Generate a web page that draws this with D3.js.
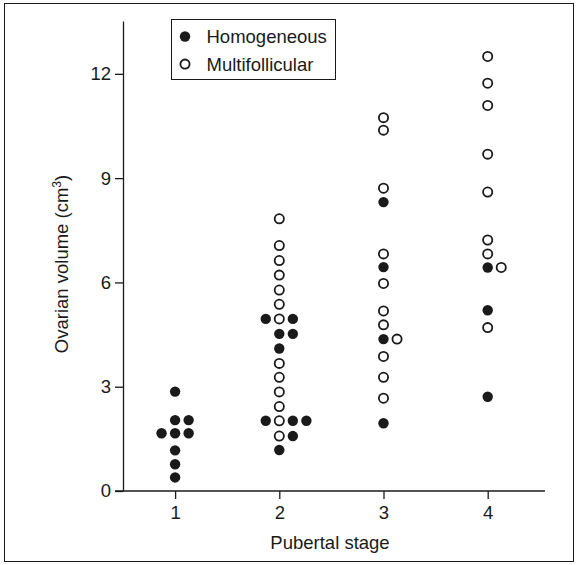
<!DOCTYPE html>
<html>
<head>
<meta charset="utf-8">
<script src="https://cdn.jsdelivr.net/npm/d3@7"></script>
<style>
  body { margin: 0; background: #fff; }
  svg text { font-family: "Liberation Sans", Arial, sans-serif; }
</style>
</head>
<body>
<svg width="577" height="565"></svg>
<script>
// pubertal stage, ovarian volume (cm3), side slot in the dot column, echo type
const stages = [
  1, 1, 1, 1, 1, 1, 1, 1, 1,
  2, 2, 2, 2, 2, 2, 2, 2, 2, 2, 2, 2, 2, 2, 2, 2,
  2, 2, 2, 2, 2, 2, 2,
  3, 3, 3, 3, 3, 3, 3, 3, 3, 3, 3, 3, 3, 3, 3,
  4, 4, 4, 4, 4, 4, 4, 4, 4, 4, 4, 4
];
const volumes = [
  2.86, 2.04, 2.04, 1.66, 1.66, 1.66, 1.17, 0.77, 0.39,
  7.83, 7.06, 6.63, 6.21, 5.78, 5.37, 4.95, 4.95, 4.95, 4.52, 4.52, 4.10, 3.67, 3.27, 2.85, 2.43,
  2.02, 2.02, 2.02, 2.02, 1.58, 1.58, 1.18,
  10.74, 10.38, 8.71, 8.31, 6.82, 6.44, 5.97, 5.18, 4.78, 4.37, 4.37, 3.87, 3.27, 2.67, 1.95,
  12.50, 11.73, 11.09, 9.69, 8.60, 7.22, 6.82, 6.43, 6.43, 5.20, 4.70, 2.71
];
const slots = [
  0, 0, 1, -1, 0, 1, 0, 0, 0,
  0, 0, 0, 0, 0, 0, -1, 0, 1, 0, 1, 0, 0, 0, 0, 0,
  -1, 0, 1, 2, 0, 1, 0,
  0, 0, 0, 0, 0, 0, 0, 0, 0, 0, 1, 0, 0, 0, 0,
  0, 0, 0, 0, 0, 0, 0, 0, 1, 0, 0, 0
];
const types = [
  "H", "H", "H", "H", "H", "H", "H", "H", "H",
  "M", "M", "M", "M", "M", "M", "H", "M", "H", "H", "H", "H", "M", "M", "M", "M",
  "H", "M", "H", "H", "M", "H", "H",
  "M", "M", "M", "H", "M", "H", "M", "M", "M", "H", "M", "M", "M", "M", "H",
  "M", "M", "M", "M", "M", "M", "M", "H", "M", "H", "M", "H"
];
const typeLabels = ["Homogeneous", "Multifollicular"];
const xTicks = [1, 2, 3, 4];
const yTicks = [0, 3, 6, 9, 12];

const data = stages.map((s, i) => ({
  stage: s, volume: volumes[i], slot: slots[i], type: types[i]
}));

const svg = d3.select("svg");
const ink = "#1a1a1a";
const fontSize = 18.5;
const slotWidth = 0.13;

const x = d3.scaleLinear().domain([0.5, 4.55]).range([123, 545]);
const y = d3.scaleLinear().domain([0, 13.52]).range([491, 21]);

// frame
svg.append("rect")
  .attr("x", 4.5).attr("y", 3.5)
  .attr("width", 569).attr("height", 558)
  .attr("fill", "none")
  .attr("stroke", ink)
  .attr("stroke-width", 1);

// y axis
const yAxisG = svg.append("g")
  .attr("transform", `translate(${x(0.5)},0)`)
  .call(d3.axisLeft(y).tickValues(yTicks).tickFormat(d3.format("d"))
    .tickSize(8).tickSizeOuter(0).tickPadding(4));

yAxisG.select(".domain").attr("stroke", ink).attr("stroke-width", 1.3);
yAxisG.selectAll(".tick line").attr("stroke", ink).attr("stroke-width", 1.3);
yAxisG.selectAll(".tick text")
  .attr("font-size", fontSize)
  .style("font-family", "Liberation Sans, Arial, sans-serif")
  .attr("fill", ink);

// x axis
const xAxisG = svg.append("g")
  .attr("transform", `translate(0,${y(0)})`)
  .call(d3.axisBottom(x).tickValues(xTicks).tickFormat(d3.format("d"))
    .tickSize(8).tickSizeOuter(0).tickPadding(7));

xAxisG.select(".domain").remove();
xAxisG.append("line")
  .attr("x1", x(0.5) - 8).attr("x2", x.range()[1])
  .attr("stroke", ink).attr("stroke-width", 1.3);
xAxisG.selectAll(".tick line").attr("stroke", ink).attr("stroke-width", 1.3);
xAxisG.selectAll(".tick text")
  .attr("font-size", fontSize)
  .style("font-family", "Liberation Sans, Arial, sans-serif")
  .attr("fill", ink);

// axis titles
svg.append("text")
  .attr("x", (x.range()[0] - 8 + x.range()[1]) / 2)
  .attr("y", 549)
  .attr("text-anchor", "middle")
  .attr("font-size", fontSize)
  .attr("fill", ink)
  .text("Pubertal stage");

const yTitle = svg.append("text")
  .attr("transform", "translate(68, 264) rotate(-90)")
  .attr("text-anchor", "middle")
  .attr("font-size", fontSize)
  .attr("fill", ink);
yTitle.append("tspan").text("Ovarian volume (cm");
yTitle.append("tspan").attr("font-size", 12).attr("dy", -7).text("3");
yTitle.append("tspan").attr("dy", 7).text(")");

// dots
svg.append("g")
  .selectAll("circle")
  .data(data)
  .join("circle")
  .attr("cx", d => x(d.stage + d.slot * slotWidth))
  .attr("cy", d => y(d.volume))
  .attr("r", d => d.type === "H" ? 5.2 : 4.6)
  .attr("fill", d => d.type === "H" ? ink : "#fff")
  .attr("stroke", ink)
  .attr("stroke-width", d => d.type === "H" ? 0 : 1.8);

// legend
const legendG = svg.append("g")
  .attr("transform", "translate(171.5, 19.5)");

legendG.append("rect")
  .attr("width", 164)
  .attr("height", 60)
  .attr("fill", "#fff")
  .attr("stroke", ink)
  .attr("stroke-width", 1);

const legendItems = legendG.selectAll("g")
  .data(typeLabels)
  .join("g")
  .attr("transform", (d, i) => `translate(0, ${17 + i * 27.6})`);

legendItems.append("circle")
  .attr("cx", 13.5)
  .attr("r", (d, i) => i === 0 ? 5.2 : 4.6)
  .attr("fill", (d, i) => i === 0 ? ink : "#fff")
  .attr("stroke", ink)
  .attr("stroke-width", (d, i) => i === 0 ? 0 : 1.8);

legendItems.append("text")
  .attr("x", 35)
  .attr("y", 6.5)
  .attr("font-size", fontSize)
  .attr("fill", ink)
  .text(d => d);
</script>
</body>
</html>
